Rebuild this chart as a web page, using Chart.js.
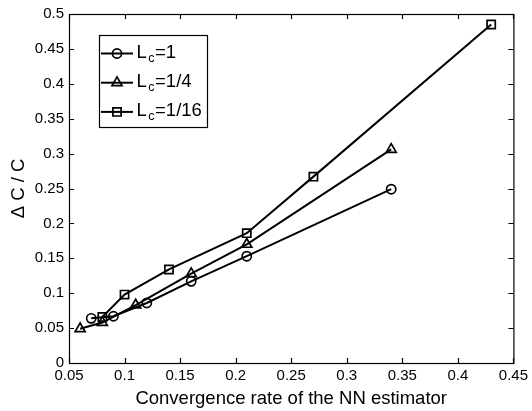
<!DOCTYPE html>
<html>
<head>
<meta charset="utf-8">
<script src="https://cdn.jsdelivr.net/npm/chart.js@4/dist/chart.umd.min.js"></script>
<style>
  html, body { margin: 0; padding: 0; background: #fff; }
</style>
</head>
<body>
<canvas id="chart" width="532" height="411"></canvas>
<script>
// convergence rate (x) and relative error (y) for each correlation length
const rateL1 = [0.07, 0.09, 0.12, 0.16, 0.21, 0.34];
const errL1 = [0.064, 0.067, 0.086, 0.117, 0.153, 0.249];
const rateL4 = [0.06, 0.08, 0.11, 0.16, 0.21, 0.34];
const errL4 = [0.049, 0.058, 0.083, 0.128, 0.170, 0.306];
const rateL16 = [0.08, 0.10, 0.14, 0.21, 0.27, 0.43];
const errL16 = [0.066, 0.098, 0.134, 0.186, 0.267, 0.485];
const seriesNames = ['1', '1/4', '1/16'];

const FONT = 'Arial, "Liberation Sans", Helvetica, sans-serif';

function points(xs, ys) {
  return xs.map((x, i) => ({ x: x, y: ys[i] }));
}

function tickText(v) {
  return String(+v.toFixed(2));
}

function series(xs, ys, style, r) {
  return {
    data: points(xs, ys),
    borderColor: '#000',
    backgroundColor: 'rgba(0,0,0,0)',
    borderWidth: 2,
    pointStyle: style,
    pointRadius: r,
    pointHoverRadius: r,
    pointBorderWidth: 1.7,
    pointBorderColor: '#000',
    pointBackgroundColor: 'rgba(0,0,0,0)',
    tension: 0
  };
}

// marker drawn the same way chart.js does it
function marker(ctx, style, r, x, y) {
  ctx.beginPath();
  if (style === 'circle') {
    ctx.arc(x, y, r, 0, Math.PI * 2);
  } else if (style === 'triangle') {
    let a = 0;
    ctx.moveTo(x + Math.sin(a) * r, y - Math.cos(a) * r);
    a += Math.PI * 2 / 3;
    ctx.lineTo(x + Math.sin(a) * r, y - Math.cos(a) * r);
    a += Math.PI * 2 / 3;
    ctx.lineTo(x + Math.sin(a) * r, y - Math.cos(a) * r);
    ctx.closePath();
  } else {
    const s = r * Math.SQRT1_2;
    ctx.rect(x - s, y - s, 2 * s, 2 * s);
  }
  ctx.stroke();
}

// box around the axes with inward ticks on all four sides
const axesBox = {
  id: 'axesBox',
  afterDraw(chart) {
    const ctx = chart.ctx;
    const a = chart.chartArea;
    const xs = chart.scales.x, ys = chart.scales.y;
    const len = 5;
    ctx.save();
    ctx.strokeStyle = '#000';
    ctx.lineWidth = 1.2;
    ctx.strokeRect(a.left + 0.5, a.top + 0.5, a.right - a.left, a.bottom - a.top);
    ctx.beginPath();
    xs.ticks.forEach(t => {
      const px = Math.round(xs.getPixelForValue(t.value)) + 0.5;
      ctx.moveTo(px, a.bottom); ctx.lineTo(px, a.bottom - len);
      ctx.moveTo(px, a.top); ctx.lineTo(px, a.top + len);
    });
    ys.ticks.forEach(t => {
      const py = Math.round(ys.getPixelForValue(t.value)) + 0.5;
      ctx.moveTo(a.left, py); ctx.lineTo(a.left + len, py);
      ctx.moveTo(a.right, py); ctx.lineTo(a.right - len, py);
    });
    ctx.stroke();
    ctx.restore();
  }
};

// legend with line sample, marker and subscripted label
const legendBox = {
  id: 'legendBox',
  afterDraw(chart) {
    const ctx = chart.ctx;
    ctx.save();
    ctx.fillStyle = '#fff';
    ctx.fillRect(99.5, 35.5, 108, 92);
    ctx.strokeStyle = '#000';
    ctx.lineWidth = 1.2;
    ctx.strokeRect(99.5, 35.5, 108, 92);
    chart.data.datasets.forEach((ds, i) => {
      const y = 53.5 + i * 29.2;
      ctx.lineWidth = ds.borderWidth;
      ctx.beginPath();
      ctx.moveTo(101, y);
      ctx.lineTo(133, y);
      ctx.stroke();
      ctx.lineWidth = ds.pointBorderWidth;
      marker(ctx, ds.pointStyle, ds.pointRadius, 117, y);

      const base = y + 4.2;
      ctx.fillStyle = '#000';
      ctx.textBaseline = 'alphabetic';
      ctx.textAlign = 'left';
      let x = 136.5;
      ctx.font = '18.5px ' + FONT;
      ctx.fillText('L', x, base);
      x += ctx.measureText('L').width + 1.5;
      ctx.font = '12.5px ' + FONT;
      ctx.fillText('c', x, base + 3.8);
      x += ctx.measureText('c').width + 0.5;
      ctx.font = '18.5px ' + FONT;
      ctx.fillText('=' + seriesNames[i], x, base);
    });
    ctx.restore();
  }
};

new Chart(document.getElementById('chart'), {
  type: 'line',
  data: {
    datasets: [
      series(rateL1, errL1, 'circle', 4.6),
      series(rateL4, errL4, 'triangle', 5.8),
      series(rateL16, errL16, 'rect', 5.8)
    ]
  },
  options: {
    responsive: false,
    animation: false,
    layout: { padding: { left: 0, top: 12, right: 18, bottom: 0 } },
    plugins: {
      legend: { display: false },
      tooltip: { enabled: false }
    },
    scales: {
      x: {
        type: 'linear',
        min: 0.05,
        max: 0.45,
        grid: { display: false, drawTicks: false },
        border: { display: false },
        ticks: {
          stepSize: 0.05,
          padding: 4,
          color: '#000',
          font: { family: FONT, size: 15 },
          maxRotation: 0,
          callback: tickText
        },
        title: {
          display: true,
          text: 'Convergence rate of the NN estimator',
          color: '#000',
          font: { family: FONT, size: 18.5 },
          padding: { top: 0, bottom: 1 }
        },
        afterFit(scale) { scale.height = 48; }
      },
      y: {
        min: 0,
        max: 0.5,
        grid: { display: false, drawTicks: false },
        border: { display: false },
        ticks: {
          stepSize: 0.05,
          padding: 5,
          color: '#000',
          font: { family: FONT, size: 15 },
          callback: tickText
        },
        title: {
          display: true,
          text: 'Δ C / C',
          color: '#000',
          font: { family: FONT, size: 18.5 },
          padding: { top: 8, bottom: 0 }
        },
        afterFit(scale) { scale.width = 69; }
      }
    }
  },
  plugins: [axesBox, legendBox]
});
</script>
</body>
</html>
